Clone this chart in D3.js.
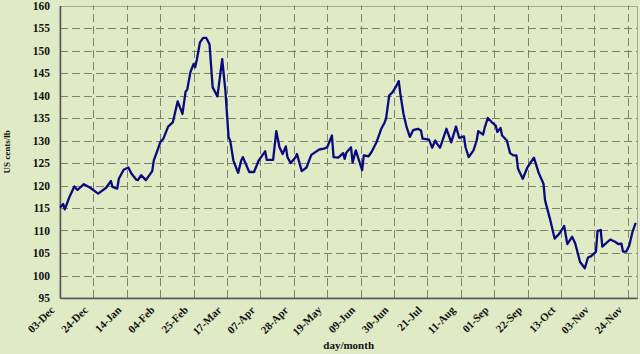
<!DOCTYPE html>
<html>
<head>
    <script src="https://cdn.jsdelivr.net/npm/d3@7"></script>
    <style type="text/css">
        body {
            margin: 0;
            background: #e0eac4;
        }
        text {
            font-family: "Liberation Serif", "Times New Roman", serif;
            font-weight: bold;
            fill: #111;
        }
    </style>
</head>
<body>
<div id="chart"></div>
<script>

// daily price readings, US cents/lb
var dates = [
    "2007-12-03","2007-12-05","2007-12-06","2007-12-09","2007-12-12","2007-12-14","2007-12-18","2007-12-22",
    "2007-12-27","2008-01-01","2008-01-04","2008-01-05","2008-01-08","2008-01-09","2008-01-12","2008-01-15",
    "2008-01-17","2008-01-20","2008-01-21","2008-01-23","2008-01-26","2008-01-30","2008-01-31","2008-02-03",
    "2008-02-04","2008-02-06","2008-02-09","2008-02-12","2008-02-15","2008-02-18","2008-02-20","2008-02-21",
    "2008-02-23","2008-02-25","2008-02-26","2008-02-27","2008-02-29","2008-03-02","2008-03-04","2008-03-06",
    "2008-03-08","2008-03-11","2008-03-14","2008-03-16","2008-03-18","2008-03-19","2008-03-21","2008-03-24",
    "2008-03-26","2008-03-27","2008-03-31","2008-04-03","2008-04-06","2008-04-10","2008-04-11","2008-04-15",
    "2008-04-17","2008-04-19","2008-04-21","2008-04-23","2008-04-24","2008-04-26","2008-04-29","2008-04-30",
    "2008-05-03","2008-05-06","2008-05-09","2008-05-14","2008-05-17","2008-05-19","2008-05-22","2008-05-23",
    "2008-05-26","2008-05-29","2008-05-30","2008-05-31","2008-06-03","2008-06-04","2008-06-06","2008-06-08",
    "2008-06-10","2008-06-11","2008-06-14","2008-06-16","2008-06-19","2008-06-22","2008-06-24","2008-06-25",
    "2008-06-27","2008-06-29","2008-07-01","2008-07-03","2008-07-04","2008-07-06","2008-07-08","2008-07-10",
    "2008-07-12","2008-07-15","2008-07-17","2008-07-18","2008-07-22","2008-07-24","2008-07-26","2008-07-27",
    "2008-07-29","2008-08-02","2008-08-05","2008-08-08","2008-08-10","2008-08-13","2008-08-14","2008-08-16",
    "2008-08-19","2008-08-21","2008-08-22","2008-08-25","2008-08-26","2008-08-28","2008-08-31","2008-09-02",
    "2008-09-03","2008-09-05","2008-09-06","2008-09-09","2008-09-11","2008-09-13","2008-09-15","2008-09-16",
    "2008-09-19","2008-09-22","2008-09-26","2008-09-29","2008-10-02","2008-10-03","2008-10-06","2008-10-09",
    "2008-10-12","2008-10-15","2008-10-17","2008-10-20","2008-10-22","2008-10-25","2008-10-28","2008-10-30",
    "2008-11-01","2008-11-04","2008-11-05","2008-11-07","2008-11-08","2008-11-13","2008-11-16","2008-11-18",
    "2008-11-20","2008-11-21","2008-11-23","2008-11-25","2008-11-27","2008-11-29"
];

var prices = [
    115.1, 115.9, 114.7, 117.5, 119.8, 119.0, 120.3, 119.5,
    118.2, 119.5, 121.0, 119.7, 119.3, 121.5, 123.5, 124.0,
    122.6, 121.3, 121.2, 122.3, 121.2, 123.2, 125.6, 128.5,
    129.6, 130.4, 133.1, 134.1, 138.7, 135.9, 140.9, 141.3,
    145.2, 147.0, 146.3, 147.9, 151.8, 152.8, 152.8, 151.4,
    141.8, 139.8, 148.1, 141.1, 130.7, 130.0, 125.6, 122.8,
    125.6, 126.3, 123.0, 123.0, 125.6, 127.6, 125.7, 125.7,
    132.1, 128.5, 127.0, 128.7, 126.3, 125.0, 126.2, 127.0,
    123.2, 124.0, 126.8, 128.0, 128.2, 128.5, 131.1, 126.3,
    126.2, 127.2, 125.9, 127.3, 128.5, 125.1, 127.8, 125.6,
    123.4, 126.7, 126.5, 127.5, 129.6, 132.6, 133.9, 134.8,
    140.0, 140.7, 141.8, 143.2, 140.4, 135.9, 132.9, 130.8,
    132.3, 132.6, 132.2, 130.4, 130.2, 128.4, 130.0, 129.3,
    128.4, 132.6, 129.6, 133.1, 130.6, 130.9, 128.5, 126.3,
    127.8, 130.0, 132.1, 131.3, 132.8, 135.0, 133.9, 133.3,
    131.9, 132.8, 131.1, 130.0, 127.2, 126.7, 126.7, 123.7,
    121.5, 124.1, 126.2, 122.8, 120.4, 116.7, 112.7, 108.2,
    109.3, 111.0, 107.0, 108.6, 107.1, 103.0, 101.6, 104.0,
    104.3, 105.3, 109.9, 110.1, 106.4, 108.0, 107.5, 107.0,
    107.1, 105.3, 105.3, 106.7, 109.7, 111.7
];

var tickDates = [
    "2007-12-03","2007-12-24","2008-01-14","2008-02-04","2008-02-25","2008-03-17",
    "2008-04-07","2008-04-28","2008-05-19","2008-06-09","2008-06-30","2008-07-21",
    "2008-08-11","2008-09-01","2008-09-22","2008-10-13","2008-11-03","2008-11-24"
];
var yTicks = [95, 100, 105, 110, 115, 120, 125, 130, 135, 140, 145, 150, 155, 160];

var width = 640, height = 354;
var margin = {top: 5.5, right: 2.7, bottom: 56, left: 60};

var parse = d3.utcParse("%Y-%m-%d");
var fmt = d3.utcFormat("%d-%b");

var data = dates.map(function (d, i) { return {date: parse(d), value: prices[i]}; });
var ticks = tickDates.map(parse);

var x = d3.scaleUtc()
        .domain([parse("2007-12-03"), parse("2008-11-30")])
        .range([margin.left, width - margin.right]);

var y = d3.scaleLinear()
        .domain([95, 160])
        .range([height - margin.bottom, margin.top]);

// snap thin lines onto the pixel grid
function crisp(v) { return Math.round(v) + 0.5; }

var svg = d3.select("#chart").append("svg")
        .attr("width", width)
        .attr("height", height);

// plot border
svg.append("rect")
        .attr("x", x.range()[0])
        .attr("y", crisp(y.range()[1]))
        .attr("width", crisp(x.range()[1]) - x.range()[0])
        .attr("height", y.range()[0] - crisp(y.range()[1]))
        .attr("fill", "none")
        .attr("stroke", "#a4a898")
        .attr("stroke-width", 1);

var grid = svg.append("g");

grid.selectAll(null)
        .data(yTicks.slice(1, -1))
        .enter().append("line")
        .attr("x1", x.range()[0]).attr("x2", x.range()[1])
        .attr("y1", function (d) { return crisp(y(d)); })
        .attr("y2", function (d) { return crisp(y(d)); });

grid.selectAll(null)
        .data(ticks.slice(1))
        .enter().append("line")
        .attr("y1", y.range()[0]).attr("y2", y.range()[1])
        .attr("x1", function (d) { return crisp(x(d)); })
        .attr("x2", function (d) { return crisp(x(d)); });

grid.selectAll("line")
        .style("stroke", "#7b8270")
        .style("stroke-width", "1px")
        .style("stroke-dasharray", "8,4");

// axes
var yAxis = svg.append("g")
        .attr("transform", "translate(" + margin.left + ",0)")
        .call(d3.axisLeft(y).tickValues(yTicks).tickSize(0).tickPadding(10));

var xAxis = svg.append("g")
        .attr("transform", "translate(0," + y.range()[0] + ")")
        .call(d3.axisBottom(x).tickValues(ticks).tickSize(0).tickFormat(fmt));

yAxis.select(".domain").attr("stroke", "#555").attr("stroke-width", 1.5);
xAxis.select(".domain").attr("stroke", "#555").attr("stroke-width", 1.5);

yAxis.selectAll("text")
        .style("font-size", "11.5px");

xAxis.selectAll("text")
        .style("font-size", "11px")
        .attr("text-anchor", "end")
        .attr("y", 0)
        .attr("dy", "0.35em")
        .attr("transform", "translate(-8,10) rotate(-45)");

svg.selectAll(".tick text").style("fill", "#111");

// price line
var line = d3.line()
        .x(function (d) { return x(d.date); })
        .y(function (d) { return y(d.value); });

svg.append("path")
        .datum(data)
        .attr("fill", "none")
        .attr("stroke", "#0a0a80")
        .attr("stroke-width", 2.3)
        .attr("stroke-linejoin", "round")
        .attr("d", line);

// titles
svg.append("text")
        .attr("transform", "translate(10," + ((y.range()[0] + y.range()[1]) / 2) + ") rotate(-90)")
        .attr("text-anchor", "middle")
        .style("font-size", "9px")
        .text("US cents/lb");

svg.append("text")
        .attr("x", (x.range()[0] + x.range()[1]) / 2)
        .attr("y", 349)
        .attr("text-anchor", "middle")
        .style("font-size", "11px")
        .text("day/month");

</script>
</body>
</html>
